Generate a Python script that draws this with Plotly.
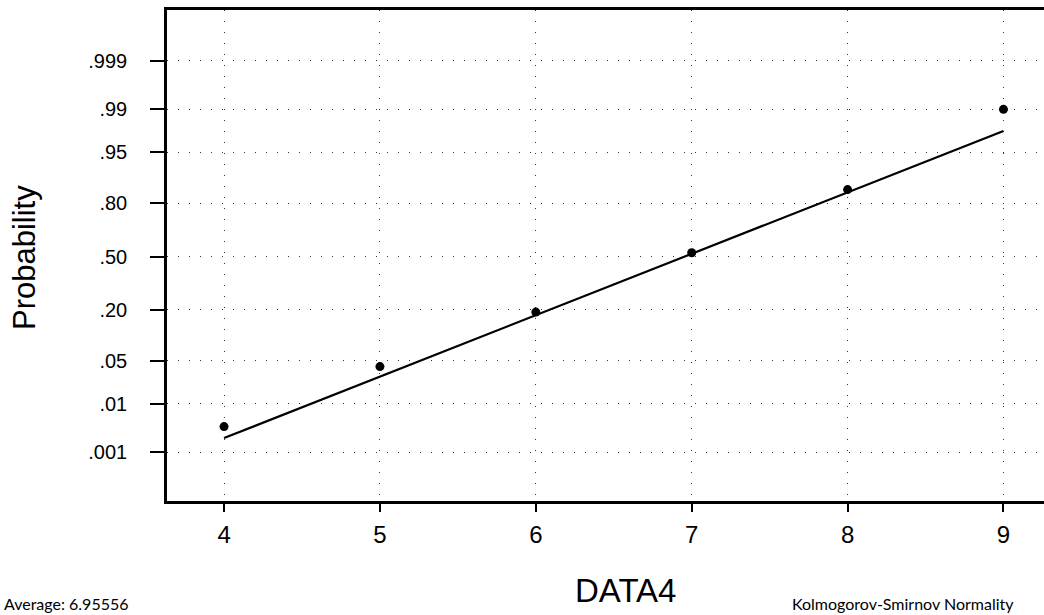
import plotly.graph_objects as go
from statistics import NormalDist

# ---- data ----
x_values = [4, 5, 6, 7, 8, 9]
cum_prob = [0.0036, 0.041, 0.19, 0.524, 0.855, 0.99]
prob_ticks = [0.001, 0.01, 0.05, 0.20, 0.50, 0.80, 0.95, 0.99, 0.999]
prob_labels = [".001", ".01", ".05", ".20", ".50", ".80", ".95", ".99", ".999"]
x_ticks = [4, 5, 6, 7, 8, 9]
fit_mean = 6.95556
fit_sd = 1.03

nd = NormalDist()
point_z = [nd.inv_cdf(p) for p in cum_prob]
tick_z = [nd.inv_cdf(p) for p in prob_ticks]
fit_x = [min(x_values), max(x_values)]
fit_z = [(v - fit_mean) / fit_sd for v in fit_x]

W, H = 1044, 615
L, R, T, B = 167, 0, 10, 114
pw, ph = W - L - R, H - T - B


def px(xp):
    return (xp - L) / pw


def py(yp):
    return (H - B - yp) / ph


fig = go.Figure()
fig.add_trace(go.Scatter(x=fit_x, y=fit_z, mode="lines",
                         line=dict(color="black", width=2.2),
                         showlegend=False, hoverinfo="skip"))
fig.add_trace(go.Scatter(x=x_values, y=point_z, mode="markers",
                         marker=dict(color="black", size=9),
                         showlegend=False))

tick_font = "Liberation Sans, Arial, sans-serif"
grid = dict(showgrid=True, gridcolor="#333", gridwidth=1, griddash="1px,10px")

fig.update_xaxes(range=[3.634, 9.26], tickvals=x_ticks,
                 ticktext=[str(v) for v in x_ticks],
                 showline=True, linecolor="black", linewidth=2.5, mirror=True,
                 ticks="outside", ticklen=8, tickwidth=2, tickcolor="black",
                 tickfont=dict(family=tick_font, size=24, color="black"),
                 ticklabelstandoff=2, zeroline=False, **grid)
fig.update_yaxes(range=[-3.864, 3.896], tickvals=tick_z, ticktext=prob_labels,
                 showline=True, linecolor="black", linewidth=2.5, mirror=False,
                 ticks="outside", ticklen=14, tickwidth=2, tickcolor="black",
                 tickfont=dict(family=tick_font, size=20, color="black"),
                 ticklabelstandoff=19, zeroline=False, **grid)

annotations = [
    dict(text="Probability", x=px(24), y=py(258), textangle=-90,
         font=dict(family=tick_font, size=31, color="black")),
    dict(text="DATA4", x=px(625), y=py(590),
         font=dict(family=tick_font, size=33, color="black")),
    dict(text="Average: 6.95556", x=px(2), y=py(603), xanchor="left",
         font=dict(family="Lato, DejaVu Sans, sans-serif", size=16, color="black")),
    dict(text="Kolmogorov-Smirnov Normality", x=px(790), y=py(603), xanchor="left",
         font=dict(family="Lato, DejaVu Sans, sans-serif", size=16, color="black")),
]
for a in annotations:
    a.update(xref="paper", yref="paper", showarrow=False)
    a.setdefault("xanchor", "center")
    a.setdefault("yanchor", "middle")

fig.update_layout(width=W, height=H, margin=dict(l=L, r=R, t=T, b=B),
                  paper_bgcolor="white", plot_bgcolor="white",
                  annotations=annotations, showlegend=False)

fig.write_html("out.html")
